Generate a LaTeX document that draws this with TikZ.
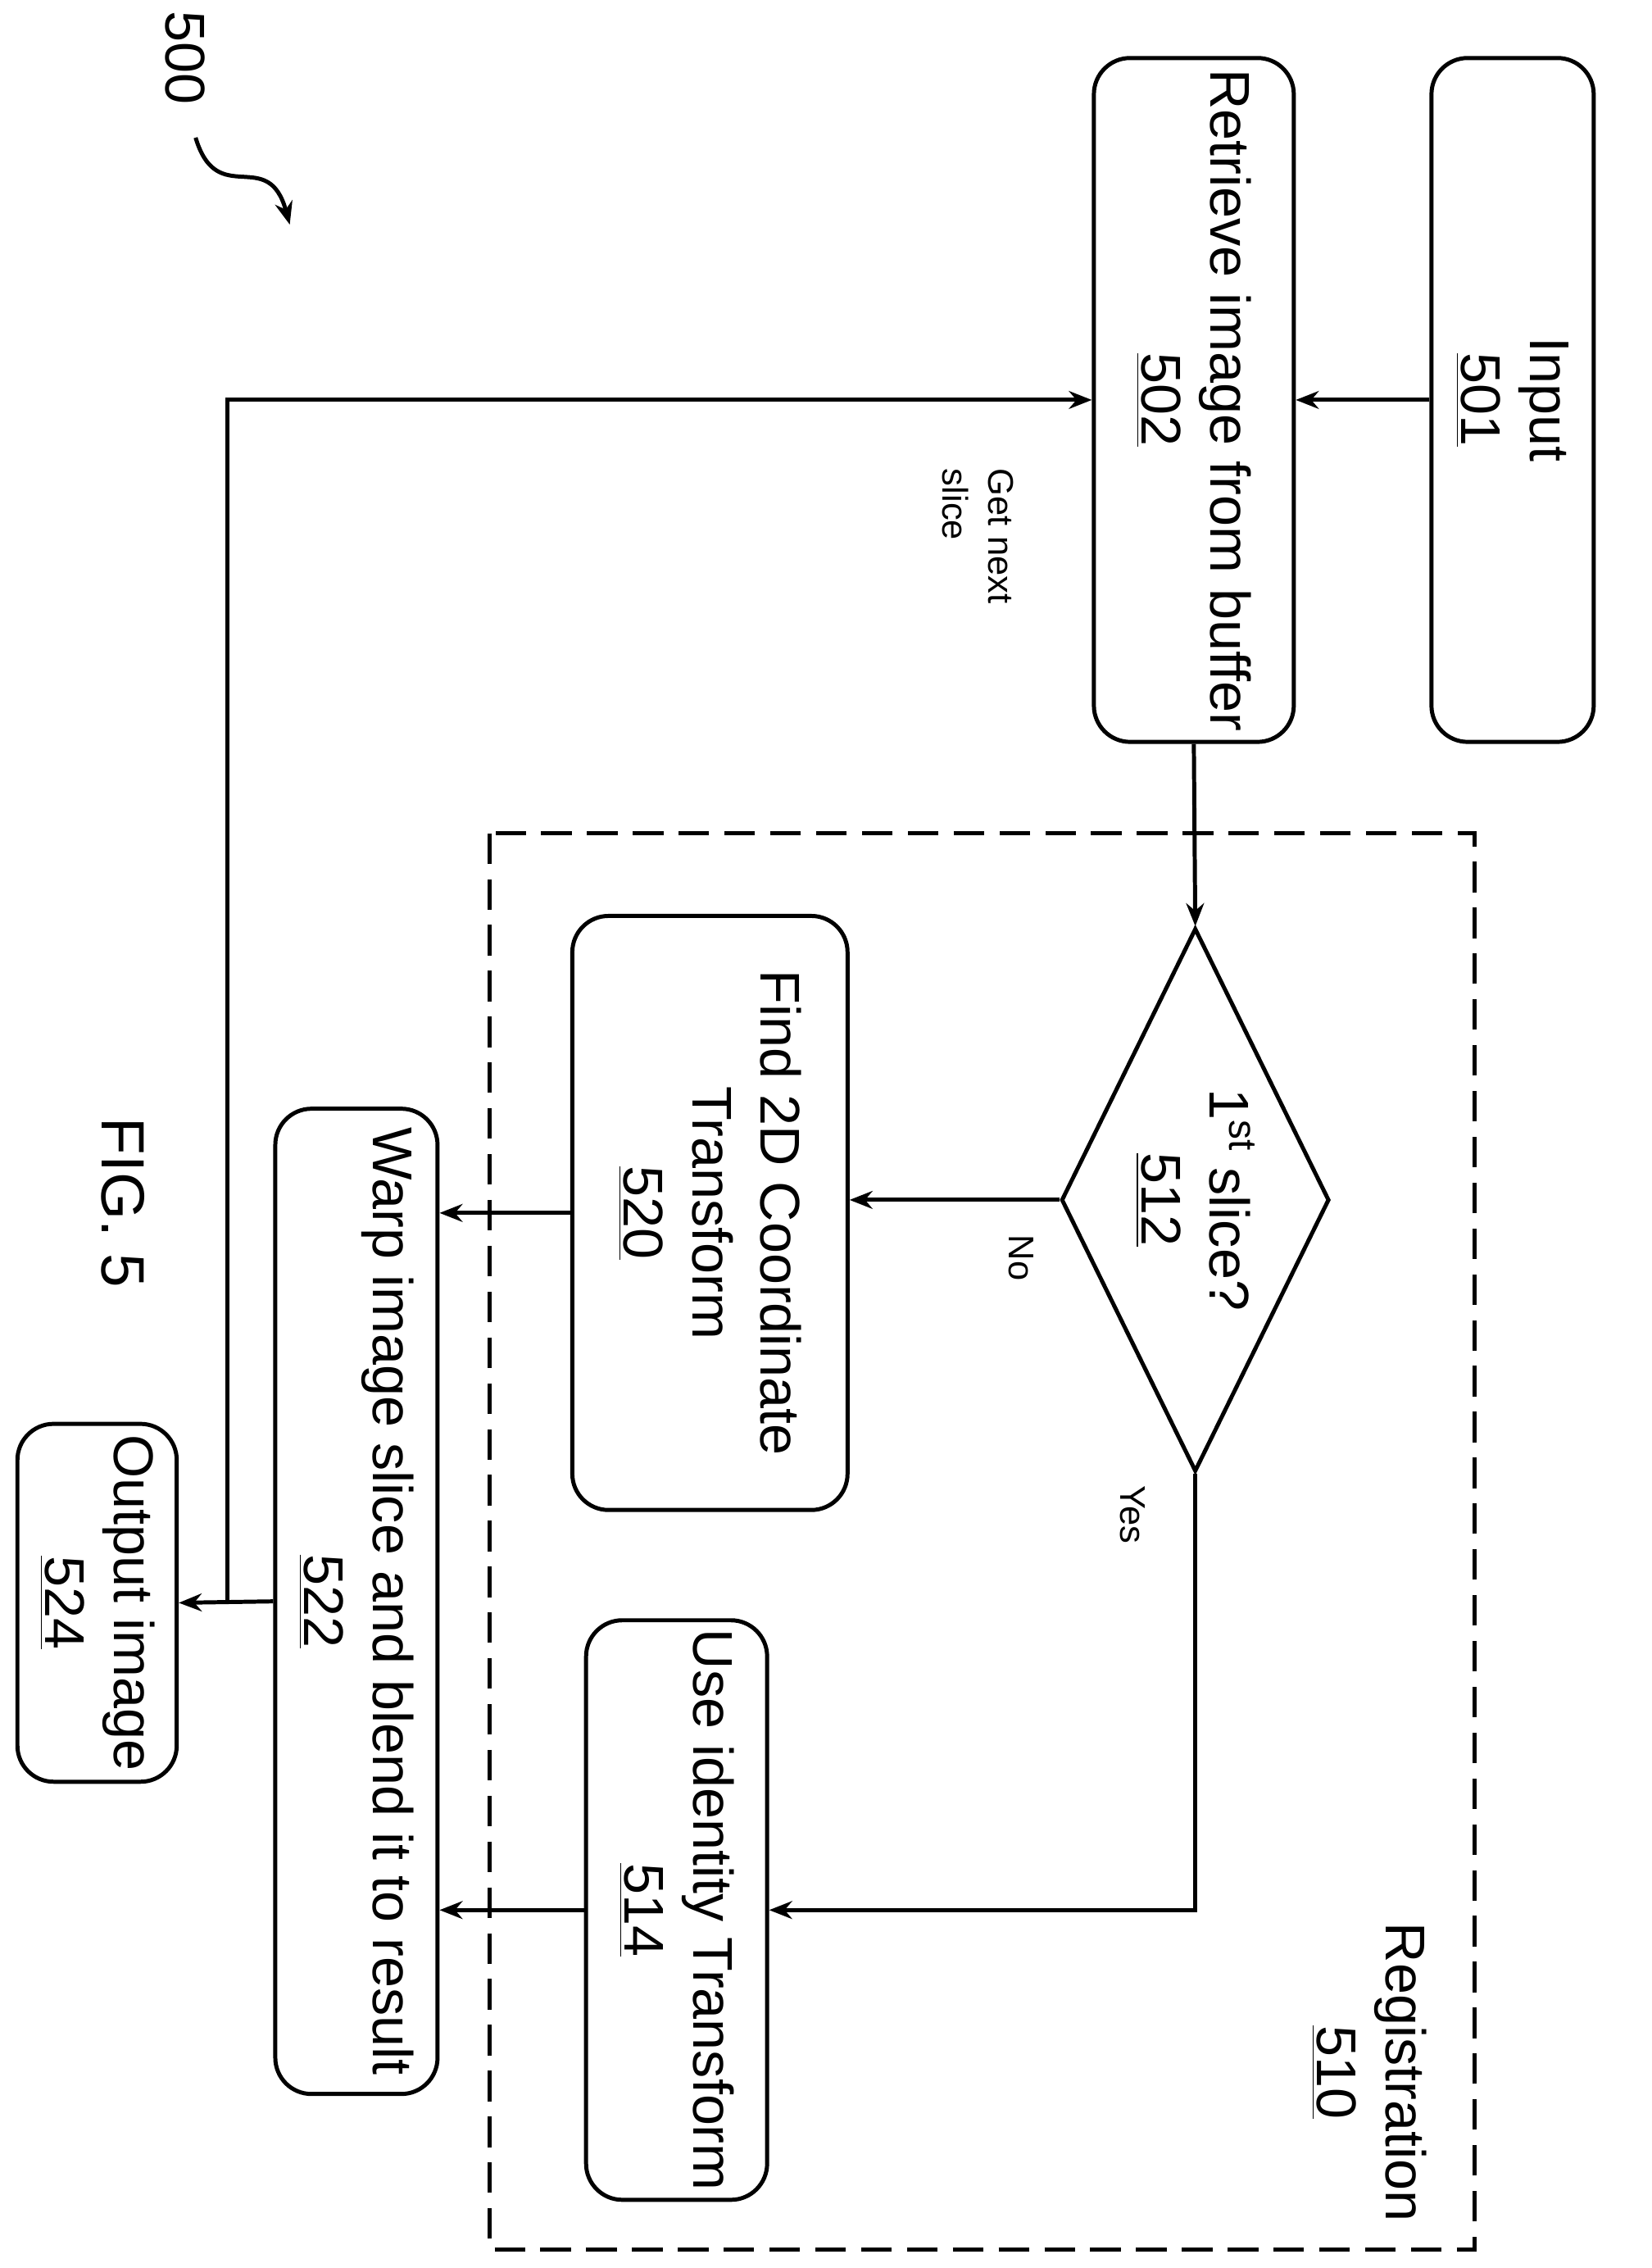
\documentclass[tikz,border=0pt]{standalone}
\usepackage{fontspec}
\setmainfont{Liberation Sans}
\usetikzlibrary{shapes.geometric,arrows.meta}
\begin{document}
\begin{tikzpicture}[x=0.02cm,y=0.02cm,
  box/.style={draw,line width=1.6pt,rounded corners=0.5cm,rotate=-90,align=center,inner sep=0pt,font=\fontsize{22}{27}\selectfont},
  lbl/.style={rotate=-90,align=center,font=\fontsize{22}{27}\selectfont},
  small/.style={rotate=-90,align=left,font=\fontsize{14}{18}\selectfont},
  arr/.style={-{Stealth[length=9pt,width=7pt]},line width=1.6pt}]
\useasboundingbox (0,0) rectangle (1140,1565);
\draw[line width=1.6pt,dash pattern=on 12pt off 6pt] (338,990) rectangle (1018,13);
\node[box,minimum width=9.44cm,minimum height=2.24cm] (in) at (1044,1289) {Input\\\underline{501}};
\node[box,minimum width=9.44cm,minimum height=2.76cm] (ret) at (824,1289) {Retrieve image from buffer\\\underline{502}};
\node[draw,line width=1.6pt,diamond,minimum width=3.7cm,minimum height=7.5cm,inner sep=0pt] (d) at (825,737) {};
\node[lbl] (dt) at (d) {1\textsuperscript{st} slice?\\\underline{512}};
\node[box,minimum width=8.2cm,minimum height=3.8cm] (find) at (490,728) {Find 2D Coordinate\\Transform\\\underline{520}};
\node[box,minimum width=8cm,minimum height=2.5cm] (id) at (467,247) {Use identity Transform\\\underline{514}};
\node[box,minimum width=13.6cm,minimum height=2.24cm] (warp) at (246,460) {Warp image slice and blend it to result\\\underline{522}};
\node[box,minimum width=4.94cm,minimum height=2.2cm] (out) at (67,459) {Output image\\\underline{524}};
\draw[arr] (in.south) -- (ret.north);
\draw[arr] (ret.east) -- (d.north);
\draw[arr] (d.west) -- (d.west -| find.north);
\draw[arr] (d.south) |- (id.north);
\draw[arr] (find.south) -- (find.south -| warp.north);
\draw[arr] (id.south) -- (id.south -| warp.north);
\draw[arr] (warp.south) -- (out.north);
\coordinate (fb) at (157,459);
\draw[arr] (fb) |- (ret.south);
\node[small] (gn) at (675,1195) {Get next\\slice};
\node[small] (no) at (705,697) {No};
\node[small] (yes) at (782,520) {Yes};
\node[lbl] (reg) at (945,135) {Registration\\\underline{510}};
\node[lbl,font=\fontsize{24}{28}\selectfont] (fig) at (85,735) {FIG. 5};
\node[lbl] (n500) at (128,1525) {500};
\draw[arr] (135,1470) .. controls (150,1420) and (185,1465) .. (200,1410);
\end{tikzpicture}
\end{document}
